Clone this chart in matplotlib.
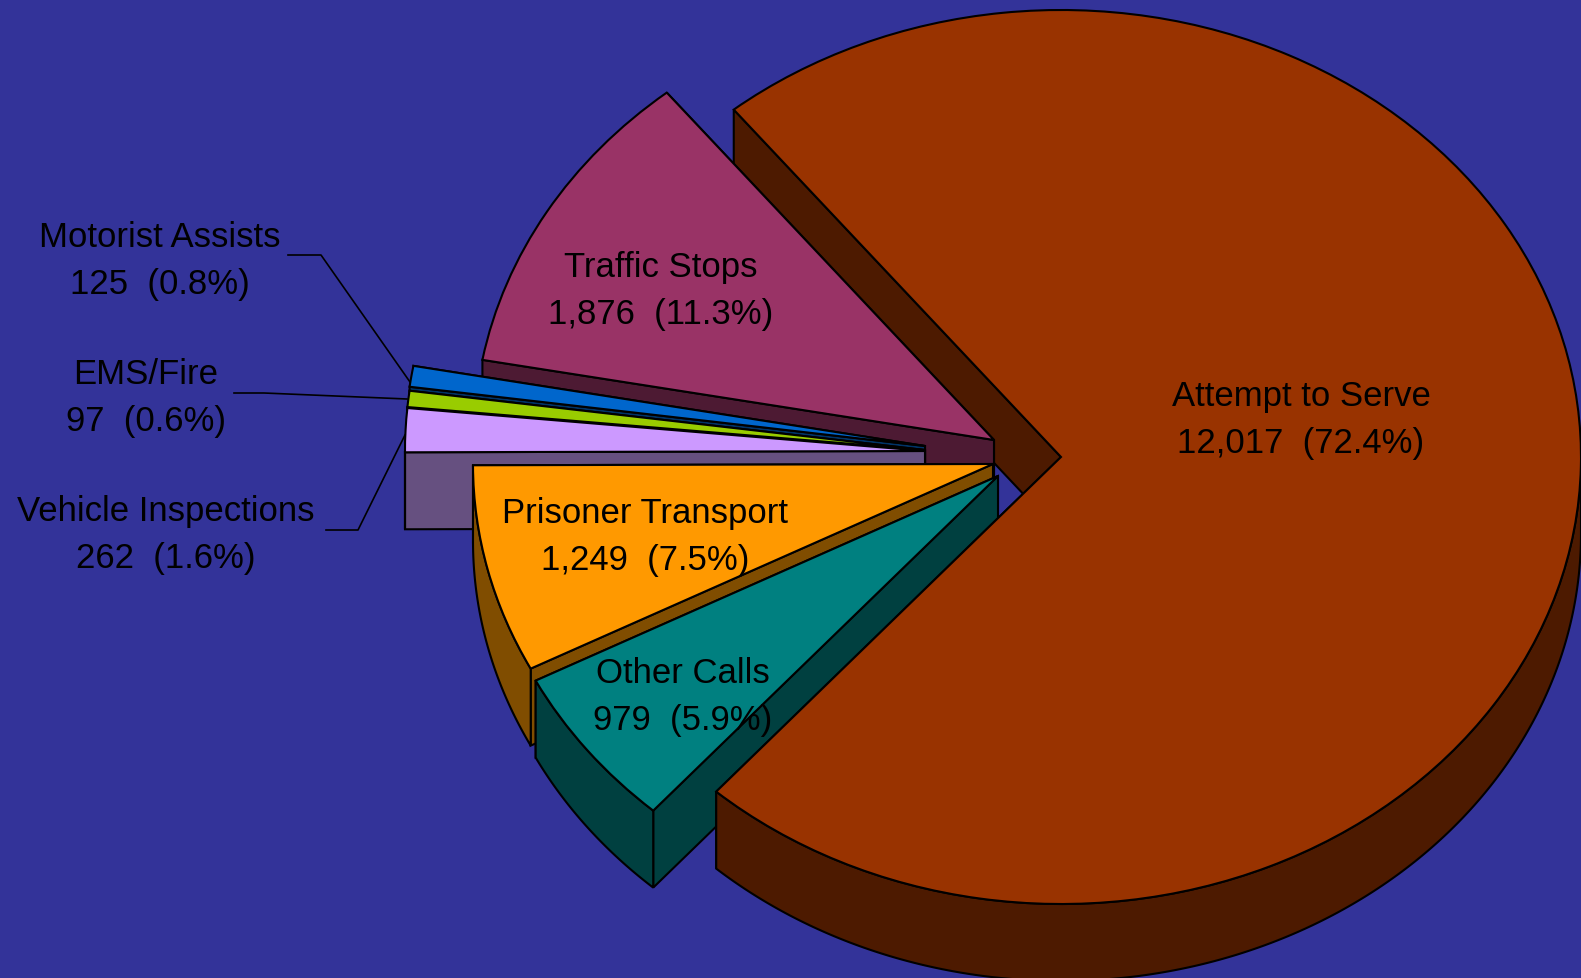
import numpy as np
import matplotlib
matplotlib.use("Agg")
import matplotlib.pyplot as plt
from matplotlib.patches import Polygon

categories = ["Attempt to Serve", "Other Calls", "Prisoner Transport", "Vehicle Inspections",
              "EMS/Fire", "Motorist Assists", "Traffic Stops"]
calls = [12017, 979, 1249, 262, 97, 125, 1876]
percents = [72.4, 5.9, 7.5, 1.6, 0.6, 0.8, 11.3]
top_colors = ["#993300", "#008080", "#FF9900", "#CC99FF", "#99CC00", "#0066CC", "#993366"]
side_colors = ["#4D1A00", "#004040", "#804D00", "#665080", "#4D6600", "#003366", "#4D1A33"]

# layout, in figure pixels
W, H = 1581, 979
RX, RY, DEPTH = 520.0, 447.0, 77.0
START_ANGLE = 129.0
LW = 1.5
tips = [(1061, 458), (998, 477), (993, 465), (925, 452), (925, 451), (925, 447), (994, 441)]
label_xy = [(1301, 420), (683, 697), (645, 537), (166, 535), (146, 398), (160, 261), (661, 291)]
leaders = {"Motorist Assists": [(288, 256), (321, 256), (410, 383)],
           "EMS/Fire": [(234, 394), (264, 394), (407, 400)],
           "Vehicle Inspections": [(326, 531), (358, 531), (405, 436)]}
BG = "#333399"

plt.rcParams["font.family"] = ["Liberation Sans", "DejaVu Sans"]
fig = plt.figure(figsize=(W / 100, H / 100), dpi=100, facecolor=BG)
ax = fig.add_axes([0, 0, 1, 1])
wedges, _ = ax.pie(calls, colors=top_colors, startangle=START_ANGLE, counterclock=False,
                   radius=1, frame=False, wedgeprops=dict(edgecolor="black", linewidth=LW))
ax.set_aspect("auto")
ax.set_xlim(0, W / RX)
ax.set_ylim(-H / RY, 0)
ax.axis("off")


def u(x, y):
    return x / RX, -y / RY


def rim_point(tip, theta):
    t = np.radians(theta)
    return tip[0] + RX * np.cos(t), tip[1] - RY * np.sin(t)


def face(tip, theta, color, z):
    p = rim_point(tip, theta)
    pts = [tip, p, (p[0], p[1] + DEPTH), (tip[0], tip[1] + DEPTH)]
    ax.add_patch(Polygon([u(*q) for q in pts], closed=True, facecolor=color,
                         edgecolor="black", linewidth=LW, zorder=z))


def rim(tip, t1, t2, color, z):
    th = np.linspace(t1, t2, 800)
    th = th[np.sin(np.radians(th)) < 0]
    if len(th) < 2:
        return
    upper = [rim_point(tip, t) for t in th]
    lower = [(x, y + DEPTH) for x, y in upper[::-1]]
    ax.add_patch(Polygon([u(*q) for q in upper + lower], closed=True, facecolor=color,
                         edgecolor="black", linewidth=LW, zorder=z))


# painter's order: back to front
order = {"Traffic Stops": 10, "Motorist Assists": 20, "EMS/Fire": 30, "Vehicle Inspections": 40,
         "Prisoner Transport": 50, "Other Calls": 60, "Attempt to Serve": 70}
for i, name in enumerate(categories):
    w = wedges[i]
    tip = tips[i]
    z = order[name]
    w.set_center(u(*tip))
    w.set_zorder(z + 3)
    if name == "Attempt to Serve":
        face(tip, w.theta2, side_colors[i], 5)
        face(tip, w.theta1, side_colors[i], z)
    else:
        face(tip, w.theta1, side_colors[i], z)
        face(tip, w.theta2, side_colors[i], z + 1)
    rim(tip, w.theta1, w.theta2, side_colors[i], z + 2)

for name, pts in leaders.items():
    xs, ys = zip(*[u(*p) for p in pts])
    ax.plot(xs, ys, color="black", lw=1.2, zorder=90)

for i, name in enumerate(categories):
    x, y = u(*label_xy[i])
    ax.text(x, y, f"{name}\n{calls[i]:,}  ({percents[i]}%)", ha="center", va="center",
            fontsize=25, color="black", linespacing=1.51, zorder=100)

fig.savefig("out.png", dpi=100, facecolor=BG)
